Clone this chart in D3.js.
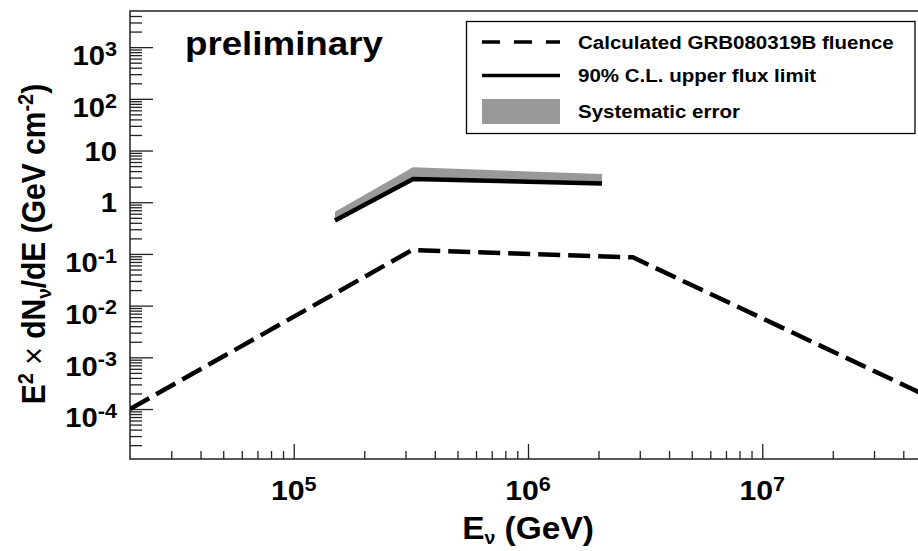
<!DOCTYPE html>
<html><head><meta charset="utf-8">
<script src="https://cdn.jsdelivr.net/npm/d3@7"></script>
<style>
body{margin:0;background:#fff}
svg{display:block}
text{font-family:"Liberation Sans",Arial,Helvetica,sans-serif;font-weight:bold;fill:#000}
</style>
</head><body><svg id="c" width="918" height="551"></svg>
<script>
// ---- data ----
const fluenceE = [2e4, 3.2e5, 2.8e6, 5e7];
const fluenceV = [1e-4, 0.119, 0.086, 1.83e-4];
const limitE = [1.5e5, 3.23e5, 2.07e6];
const limitV = [0.443, 2.81, 2.30];
const sysUpperV = [0.656, 4.74, 3.52];
const xTickExps = [5, 6, 7];
const yTickExps = [3, 2, 1, 0, -1, -2, -3, -4];
const legendLabels = ["Calculated GRB080319B fluence", "90% C.L. upper flux limit", "Systematic error"];
const xDomain = [2e4, 5e7];
const yDomain = [1.08e-5, 5e3];

// ---- layout ----
const W = 918, H = 551, L = 130, T = 11, R = 926, B = 459;
const SX = 1.08;
const INK = "#222";
const svg = d3.select("#c");
svg.append("rect").attr("width", W).attr("height", H).attr("fill", "#fff");

const x = d3.scaleLog().domain(xDomain).range([L, R]);
const y = d3.scaleLog().domain(yDomain).range([B, T]);

svg.append("defs").append("clipPath").attr("id", "clip")
  .append("rect").attr("x", L).attr("y", T).attr("width", W - L).attr("height", B - T);

function minorTicks(domain) {
  const out = [];
  const lo = Math.floor(Math.log10(domain[0])), hi = Math.ceil(Math.log10(domain[1]));
  for (let e = lo; e < hi; e++) for (let m = 2; m <= 9; m++) {
    const v = m * Math.pow(10, e);
    if (v > domain[0] && v < domain[1]) out.push(v);
  }
  return out;
}

// ---- axes ----
function styleAxis(g) {
  g.select(".domain").remove();
  g.selectAll(".tick line").attr("stroke", INK).attr("stroke-width", 1.3);
  g.selectAll(".tick text").remove();
}
svg.append("g").attr("transform", `translate(${L},0)`)
  .call(d3.axisLeft(y).tickValues(yTickExps.map(e => Math.pow(10, e))).tickSize(-23).tickFormat(""))
  .call(styleAxis);
svg.append("g").attr("transform", `translate(${L},0)`)
  .call(d3.axisLeft(y).tickValues(minorTicks(yDomain)).tickSize(-12).tickFormat(""))
  .call(styleAxis);
svg.append("g").attr("transform", `translate(0,${B})`)
  .call(d3.axisBottom(x).tickValues(xTickExps.map(e => Math.pow(10, e))).tickSize(-15).tickFormat(""))
  .call(styleAxis);
svg.append("g").attr("transform", `translate(0,${B})`)
  .call(d3.axisBottom(x).tickValues(minorTicks(xDomain)).tickSize(-8).tickFormat(""))
  .call(styleAxis);

// frame
svg.append("path")
  .attr("d", `M${W + 5},${T}H${L}V${B}H${W + 5}`)
  .attr("fill", "none").attr("stroke", INK).attr("stroke-width", 1.5);

// ---- tick labels ----
function sLabel(px, py, anchor, size) {
  return svg.append("g").attr("transform", `translate(${px},${py}) scale(${SX},1)`)
    .append("text").attr("text-anchor", anchor).attr("font-size", size);
}
function powLabel(t, e) {
  if (e === 0) { t.text("1"); return; }
  if (e === 1) { t.text("10"); return; }
  t.append("tspan").text("10");
  t.append("tspan").attr("font-size", 20).attr("dy", -9.5).text(String(e));
}
yTickExps.forEach(e => {
  const py = y(Math.pow(10, e));
  const hasExp = !(e === 0 || e === 1);
  const t = sLabel(117, py + (hasExp ? 18.3 : 10), "end", 27);
  powLabel(t, e);
});
xTickExps.forEach(e => {
  const t = sLabel(x(Math.pow(10, e)), 500, "middle", 28);
  powLabel(t, e);
});

// ---- axis titles ----
const xt = sLabel((L + R) / 2, 539, "middle", 31);
xt.append("tspan").text("E");
xt.append("tspan").attr("font-size", 18).attr("dy", 5).text("ν");
xt.append("tspan").attr("dy", -5).text(" (GeV)");

const ytg = svg.append("g").attr("transform", `translate(45,244) scale(${SX},1) rotate(-90)`);
const yt = ytg.append("text").attr("text-anchor", "middle").attr("font-size", 30);
yt.append("tspan").text("E");
yt.append("tspan").attr("font-size", 20).attr("dy", -11).text("2");
yt.append("tspan").attr("dy", 11).attr("font-weight", "normal").text(" × ");
yt.append("tspan").text("dN");
yt.append("tspan").attr("font-size", 19).attr("dy", 6).text("ν");
yt.append("tspan").attr("dy", -6).text("/dE (GeV cm");
yt.append("tspan").attr("font-size", 20).attr("dy", -11).text("-2");
yt.append("tspan").attr("dy", 11).text(")");

// ---- data marks ----
const plot = svg.append("g").attr("clip-path", "url(#clip)");
const sysData = limitE.map((e, i) => ({ e, lo: limitV[i], hi: sysUpperV[i] }));
plot.append("path").datum(sysData)
  .attr("d", d3.area().x(d => x(d.e)).y0(d => y(d.lo)).y1(d => y(d.hi)))
  .attr("fill", "#999");
plot.append("path").datum(limitE.map((e, i) => [e, limitV[i]]))
  .attr("d", d3.line().x(d => x(d[0])).y(d => y(d[1])))
  .attr("fill", "none").attr("stroke", "#000").attr("stroke-width", 4.5);
plot.append("path").datum(fluenceE.map((e, i) => [e, fluenceV[i]]))
  .attr("d", d3.line().x(d => x(d[0])).y(d => y(d[1])))
  .attr("fill", "none").attr("stroke", "#000").attr("stroke-width", 4.5)
  .attr("stroke-dasharray", "22,8");

// ---- "preliminary" ----
sLabel(185, 55, "start", 34).text("preliminary");

// ---- legend ----
const lg = svg.append("g");
lg.append("rect").attr("x", 466.5).attr("y", 21.5).attr("width", 448.5).attr("height", 112)
  .attr("fill", "#fff").attr("stroke", "#000").attr("stroke-width", 1.3);
const rowY = [42, 75.5, 111.5];
lg.append("line").attr("x1", 482).attr("x2", 560).attr("y1", rowY[0]).attr("y2", rowY[0])
  .attr("stroke", "#000").attr("stroke-width", 3.5).attr("stroke-dasharray", "18,14");
lg.append("line").attr("x1", 482).attr("x2", 560).attr("y1", rowY[1]).attr("y2", rowY[1])
  .attr("stroke", "#000").attr("stroke-width", 3.5);
lg.append("rect").attr("x", 482).attr("y", rowY[2] - 12.5).attr("width", 78).attr("height", 25).attr("fill", "#999");
legendLabels.forEach((s, i) => sLabel(578, rowY[i] + 6.8, "start", 19).text(s));
</script>
</body></html>
